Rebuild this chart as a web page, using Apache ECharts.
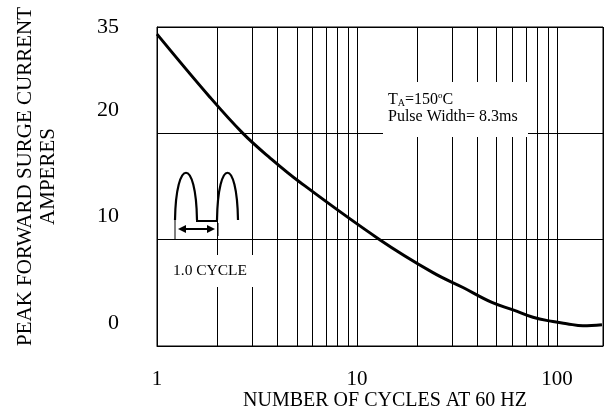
<!DOCTYPE html>
<html>
<head>
<meta charset="utf-8">
<script src="https://cdn.jsdelivr.net/npm/echarts@6/dist/echarts.min.js"></script>
<style>
  html, body { margin: 0; padding: 0; background: #fff; }
  #main { width: 609px; height: 417px; }
</style>
</head>
<body>
<div id="main"></div>
<script>
// 坐标轴刻度
const xTicks = [1, 10, 100]
const yTicks = [0, 10, 20, 35]
// 对数网格的次级竖线
const xGrid = [2, 3, 4, 5, 6, 7, 8, 9, 20, 30, 40, 50, 60, 70, 80, 90]

// 曲线数据 (周期数, 安培)
const cycles = [1.0, 1.84, 2.69, 3.67, 5.19, 13.0, 24.0, 33.9, 47.3, 60.3, 75.9, 95.5, 112, 135, 168]
const amps = [34.0, 25.1, 20.0, 17.7, 15.4, 10.0, 6.9, 5.5, 4.1, 3.4, 2.7, 2.3, 2.1, 1.9, 2.0]

const FONT = 'Liberation Serif'

// y轴刻度不均匀: 每个格子对应 yTicks 中相邻两个值
function toBand (a) {
  for (let i = 0; i < yTicks.length - 1; i++) {
    if (a <= yTicks[i + 1]) {
      return i + (a - yTicks[i]) / (yTicks[i + 1] - yTicks[i])
    }
  }
  return yTicks.length - 1
}

const myChart = echarts.init(document.getElementById('main'))

var option = {
  backgroundColor: '#fff',
  animation: false,
  grid: {
    left: 157,
    right: 6,
    top: 27,
    bottom: 71,
    show: true,
    borderColor: '#000',
    borderWidth: 1,
    containLabel: false,
    outerBoundsMode: 'none'
  },
  xAxis: {
    type: 'log',
    logBase: 10,
    min: 1,
    max: 170,
    name: 'NUMBER OF CYCLES AT 60 HZ',
    nameLocation: 'middle',
    nameGap: 45,
    nameMoveOverlap: false,
    nameTextStyle: { color: '#000', fontFamily: FONT, fontSize: 20, padding: [0, 0, 0, 10] },
    axisLine: { show: true, lineStyle: { color: '#000', width: 1 } },
    axisTick: { show: false },
    axisLabel: {
      color: '#000',
      fontFamily: FONT,
      fontSize: 21,
      margin: 23,
      showMaxLabel: false,
      formatter: function (v) {
        return xTicks.indexOf(v) >= 0 ? String(v) : ''
      }
    },
    splitLine: { show: true, lineStyle: { color: '#000', width: 1 } }
  },
  yAxis: [
    {
      type: 'value',
      position: 'left',
      min: 0,
      max: yTicks.length - 1,
      interval: 1,
      name: 'PEAK FORWARD SURGE CURRENT\nAMPERES',
      nameLocation: 'middle',
      nameRotate: 90,
      nameGap: 97,
      nameMoveOverlap: false,
      nameTextStyle: { color: '#000', fontFamily: FONT, fontSize: 21, lineHeight: 23, padding: [0, 0, 0, 20] },
      axisLine: { show: true, lineStyle: { color: '#000', width: 1 } },
      axisTick: { show: false },
      axisLabel: {
        color: '#000',
        fontFamily: FONT,
        fontSize: 22,
        margin: 38,
        verticalAlign: 'bottom',
        lineHeight: 46,
        formatter: function (v) {
          return v < yTicks.length - 1 ? String(yTicks[v]) : ''
        }
      },
      splitLine: { show: true, lineStyle: { color: '#000', width: 1 } }
    },
    {
      // 只显示最上面的 "35"
      type: 'value',
      position: 'left',
      min: 0,
      max: yTicks.length - 1,
      interval: 1,
      axisLine: { show: false },
      axisTick: { show: false },
      splitLine: { show: false },
      axisLabel: {
        color: '#000',
        fontFamily: FONT,
        fontSize: 22,
        margin: 38,
        verticalAlign: 'middle',
        formatter: function (v) {
          return v === yTicks.length - 1 ? String(yTicks[v]) : ''
        }
      }
    }
  ],
  series: [
    {
      type: 'line',
      yAxisIndex: 0,
      smooth: 0.4,
      symbol: 'none',
      lineStyle: { color: '#000', width: 3 },
      data: cycles.map(function (c, i) { return [c, toBand(amps[i])] }),
      markLine: {
        silent: true,
        symbol: 'none',
        label: { show: false },
        lineStyle: { color: '#000', width: 1, type: 'solid' },
        data: xGrid.map(function (v) { return { xAxis: v } })
      }
    }
  ],
  // 图中的说明文字和半波示意图
  graphic: [
    { type: 'rect', z: 100, shape: { x: 383, y: 82, width: 145, height: 55 }, style: { fill: '#fff' } },
    {
      type: 'text', z: 101, x: 388, y: 91,
      style: {
        text: '{n|T}{sub|A}{n|=150}{sup|o}{n|C}\n{n|Pulse Width= 8.3ms}',
        fill: '#000',
        rich: {
          n: { fontFamily: FONT, fontSize: 16, lineHeight: 17 },
          sub: { fontFamily: FONT, fontSize: 10, lineHeight: 17, verticalAlign: 'bottom' },
          sup: { fontFamily: FONT, fontSize: 9, lineHeight: 17, verticalAlign: 'top' }
        }
      }
    },
    { type: 'rect', z: 100, shape: { x: 158, y: 255, width: 98, height: 32 }, style: { fill: '#fff' } },
    {
      type: 'text', z: 101, x: 173, y: 271,
      style: { text: '1.0 CYCLE', fill: '#000', fontFamily: FONT, fontSize: 15.5, verticalAlign: 'middle' }
    },
    {
      type: 'bezierCurve', z: 101,
      shape: { x1: 175, y1: 220, cpx1: 176, cpy1: 157, cpx2: 196, cpy2: 157, x2: 197, y2: 220 },
      style: { stroke: '#000', lineWidth: 2.2, fill: null }
    },
    {
      type: 'bezierCurve', z: 101,
      shape: { x1: 217, y1: 220, cpx1: 218, cpy1: 157, cpx2: 237, cpy2: 157, x2: 238, y2: 220 },
      style: { stroke: '#000', lineWidth: 2.2, fill: null }
    },
    { type: 'line', z: 101, shape: { x1: 196, y1: 221, x2: 218, y2: 221 }, style: { stroke: '#000', lineWidth: 2 } },
    { type: 'line', z: 101, shape: { x1: 175, y1: 218, x2: 175, y2: 240 }, style: { stroke: '#000', lineWidth: 1 } },
    { type: 'line', z: 101, shape: { x1: 218, y1: 223, x2: 218, y2: 236 }, style: { stroke: '#000', lineWidth: 1 } },
    { type: 'line', z: 101, shape: { x1: 183, y1: 229, x2: 210, y2: 229 }, style: { stroke: '#000', lineWidth: 2 } },
    { type: 'polygon', z: 101, shape: { points: [[178, 229], [186, 225], [186, 233]] }, style: { fill: '#000' } },
    { type: 'polygon', z: 101, shape: { points: [[215, 229], [207, 225], [207, 233]] }, style: { fill: '#000' } }
  ]
}

myChart.setOption(option)
window.onresize = function () { myChart.resize() }
</script>
</body>
</html>
